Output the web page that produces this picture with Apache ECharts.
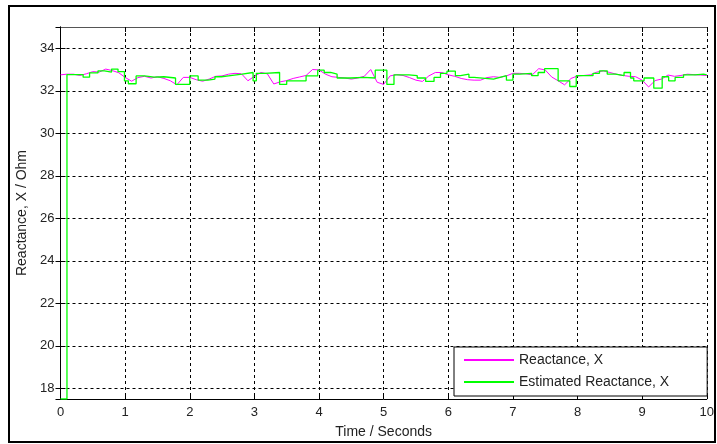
<!DOCTYPE html>
<html>
<head>
<meta charset="utf-8">
<script src="https://cdn.jsdelivr.net/npm/echarts@6/dist/echarts.min.js"></script>
<style>
html,body{margin:0;padding:0;background:#fff;}
#chart{width:717px;height:444px;}
</style>
</head>
<body>
<div id="chart"></div>
<script>
// Reactance, X (magenta) sampled every 0.1 s
var timeX = [];
for (var i = 0; i <= 100; i++) timeX.push(+(i * 0.1).toFixed(1));
var reactance = [
32.75,32.78,32.78,32.72,32.80,32.90,32.88,33.02,32.95,32.85,
32.63,32.45,32.62,32.68,32.60,32.66,32.58,32.47,32.28,32.63,
32.63,32.52,32.45,32.55,32.68,32.70,32.78,32.82,32.80,32.47,
32.68,32.86,32.80,32.32,32.42,32.48,32.58,32.65,32.72,33.00,
32.98,32.78,32.66,32.63,32.60,32.55,32.60,32.68,33.00,32.40,
32.30,32.70,32.76,32.72,32.62,32.50,32.44,32.70,32.86,32.86,
32.75,32.68,32.58,32.52,32.50,32.50,32.62,32.66,32.63,32.70,
32.82,32.82,32.80,32.75,33.04,32.98,32.65,32.47,32.28,32.58,
32.70,32.72,32.75,32.88,32.94,32.86,32.78,32.72,32.68,32.66,
32.50,32.18,32.48,32.55,32.74,32.68,32.72,32.78,32.76,32.74,
32.72
];
// Estimated Reactance, X (green) step changes: start time of each step and held value
var stepTimes = [0,0.1,0.35,0.45,0.58,0.68,0.79,0.89,0.99,1.05,1.17,1.30,1.45,1.6,1.78,2.0,2.13,2.28,2.39,2.49,2.6,2.81,2.98,3.03,3.16,3.39,3.50,3.80,3.98,4.08,4.18,4.28,4.49,4.69,4.87,5.05,5.16,5.39,5.52,5.65,5.78,5.88,5.98,6.11,6.19,6.32,6.40,6.70,6.80,6.90,7.0,7.11,7.29,7.39,7.49,7.70,7.88,7.98,8.24,8.34,8.46,8.59,8.72,8.82,8.87,9.03,9.18,9.31,9.41,9.51,9.64,9.82,9.95,10];
var stepValues = [17.5,32.76,32.64,32.84,32.94,32.88,33.02,32.90,32.47,32.33,32.70,32.64,32.66,32.60,32.30,32.70,32.50,32.55,32.66,32.70,32.78,32.86,32.47,32.82,32.86,32.30,32.47,32.70,32.97,32.86,32.78,32.60,32.63,32.60,32.97,32.30,32.75,32.71,32.60,32.44,32.63,32.82,32.92,32.71,32.78,32.63,32.55,32.63,32.71,32.50,32.78,32.82,32.71,32.86,33.04,32.47,32.20,32.71,32.82,32.94,32.78,32.71,32.86,32.60,32.47,32.60,32.12,32.66,32.47,32.63,32.75,32.78,32.75,32.75];

var xMin = 0, xMax = 10, xInterval = 1;
var yMin = 17.5, yMax = 35;
var seriesNames = ['Reactance, X', 'Estimated Reactance, X'];
var xTitle = 'Time / Seconds';
var yTitle = 'Reactance, X / Ohm';

var magData = timeX.map(function (t, i) { return [t, reactance[i]]; });
var grnData = stepTimes.map(function (t, i) { return [t, stepValues[i]]; });

var chart = echarts.init(document.getElementById('chart'), null, {renderer: 'canvas'});
var font = 'Liberation Sans, Arial, sans-serif';
var dashed = {show: true, lineStyle: {color: '#000', type: [3, 3], width: 1}};
chart.setOption({
  animation: false,
  backgroundColor: '#fff',
  grid: {left: 60.5, top: 27, right: 7, bottom: 45, containLabel: false, show: false},
  graphic: [{type: 'rect', shape: {x: 9, y: 6, width: 706, height: 436}, style: {fill: 'none', stroke: '#000', lineWidth: 2}, z: 100}],
  xAxis: [{
    type: 'value', min: xMin, max: xMax, interval: xInterval,
    name: xTitle, nameLocation: 'middle', nameGap: 26,
    nameTextStyle: {color: '#222', fontFamily: font, fontSize: 14},
    axisLine: {show: true, lineStyle: {color: '#000', width: 1}},
    axisTick: {show: true, inside: true, length: 5, lineStyle: {color: '#000'}},
    axisLabel: {color: '#222', fontFamily: font, fontSize: 13, margin: 7},
    splitLine: dashed
  }, {
    type: 'value', min: xMin, max: xMax, interval: xInterval, position: 'top',
    axisLine: {show: true, lineStyle: {color: '#555', width: 1}},
    axisTick: {show: true, inside: true, length: 5, lineStyle: {color: '#000'}},
    axisLabel: {show: false}, splitLine: {show: false}
  }],
  yAxis: [{
    type: 'value', min: yMin, max: yMax, splitNumber: 8,
    name: yTitle, nameLocation: 'middle', nameGap: 26, nameRotate: 90,
    nameTextStyle: {color: '#222', fontFamily: font, fontSize: 14},
    axisLine: {show: true, lineStyle: {color: '#000', width: 1}},
    axisTick: {show: true, inside: true, length: 5, lineStyle: {color: '#000'}},
    axisLabel: {color: '#222', fontFamily: font, fontSize: 13, margin: 6, showMinLabel: false, showMaxLabel: false},
    splitLine: dashed
  }, {
    type: 'value', min: yMin, max: yMax, splitNumber: 8, position: 'right',
    axisLine: {show: true, lineStyle: {color: '#000', width: 1}},
    axisTick: {show: true, inside: true, length: 5, lineStyle: {color: '#000'}},
    axisLabel: {show: false}, splitLine: {show: false}
  }],
  legend: {
    orient: 'vertical', left: 454, top: 347,
    data: seriesNames,
    itemWidth: 50, itemHeight: 14, itemGap: 8,
    padding: [6, 38, 7, 9],
    itemStyle: {opacity: 0},
    backgroundColor: '#fff', borderColor: '#000', borderWidth: 1,
    textStyle: {color: '#222', fontFamily: font, fontSize: 14}
  },
  series: [{
    name: seriesNames[0], type: 'line', data: magData, symbol: 'none',
    lineStyle: {color: '#ff00ff', width: 1}, itemStyle: {color: '#ff00ff'}
  }, {
    name: seriesNames[1], type: 'line', data: grnData, symbol: 'none', step: 'end',
    lineStyle: {color: '#00ff00', width: 1.3}, itemStyle: {color: '#00ff00'}
  }]
});
</script>
</body>
</html>
